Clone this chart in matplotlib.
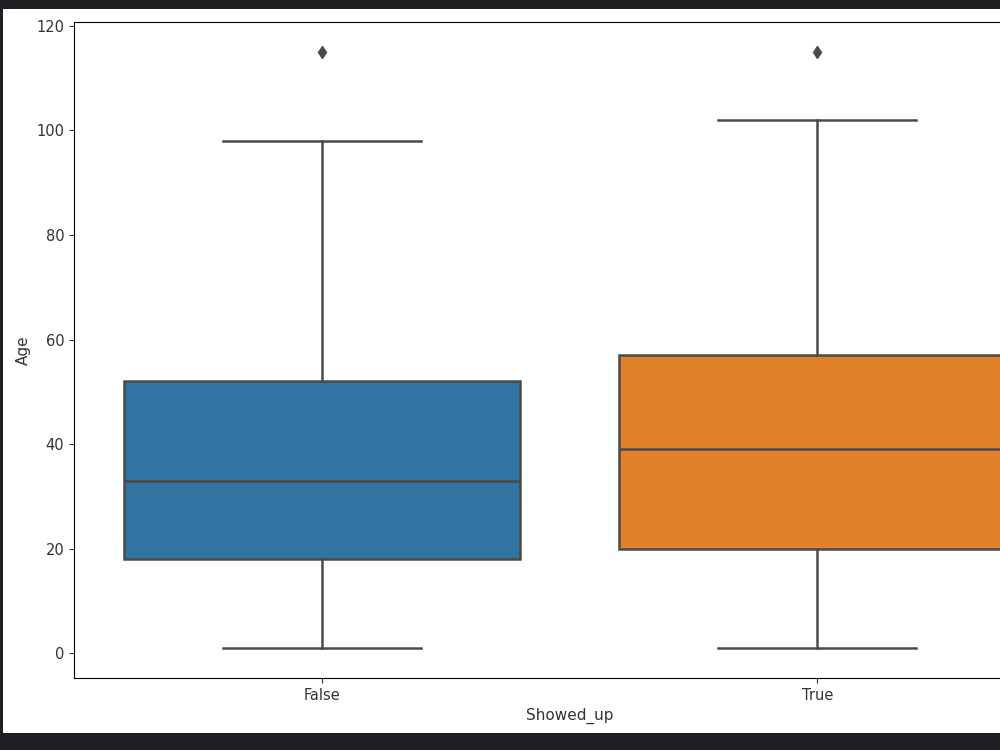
import matplotlib
matplotlib.use("Agg")
import matplotlib.pyplot as plt
from matplotlib.patches import Rectangle

categories = ["False", "True"]
whislo = [1, 1]
q1 = [18, 20]
med = [33, 39]
q3 = [52, 57]
whishi = [98, 102]
fliers = [[115], [115]]
box_colors = ["#3274a1", "#e1812c"]
yticks = [0, 20, 40, 60, 80, 100, 120]

fig = plt.figure(figsize=(10, 7.5), dpi=100)
fig.patch.set_facecolor("#1e1f22")
# white panel of the screenshot
fig.patches.append(Rectangle((0.003, 1 - 733 / 750), 1.0, (733 - 9) / 750,
                             transform=fig.transFigure, facecolor="white",
                             edgecolor="none", zorder=-10))

ax = fig.add_axes([0.074, 1 - 678 / 750, 1.065 - 0.074, (678 - 22) / 750])
ax.set_zorder(5)

stats = []
for i in range(len(categories)):
    stats.append(dict(label=categories[i], whislo=whislo[i], q1=q1[i], med=med[i],
                      q3=q3[i], whishi=whishi[i], fliers=fliers[i]))

line_color = "#4a4a4a"
lw = 1.8
bp = ax.bxp(stats, positions=range(len(categories)), widths=0.8, patch_artist=True,
            boxprops=dict(edgecolor=line_color, linewidth=lw),
            medianprops=dict(color=line_color, linewidth=lw),
            whiskerprops=dict(color=line_color, linewidth=lw),
            capprops=dict(color=line_color, linewidth=lw),
            flierprops=dict(marker="d", markerfacecolor=line_color,
                            markeredgecolor=line_color, markersize=6),
            capwidths=0.4)
for patch, c in zip(bp["boxes"], box_colors):
    patch.set_facecolor(c)

ax.set_xlim(-0.5, 1.5)
ax.set_ylim(-4.7, 120.7)
ax.set_yticks(yticks)
ax.set_xticks(range(len(categories)))
ax.set_xticklabels(categories)
ax.tick_params(labelsize=10.5, colors="#333333")
ax.set_xlabel("Showed_up", fontsize=11, color="#333333")
ax.set_ylabel("Age", fontsize=11, color="#333333")

fig.savefig("out.png", dpi=100, facecolor=fig.get_facecolor())
